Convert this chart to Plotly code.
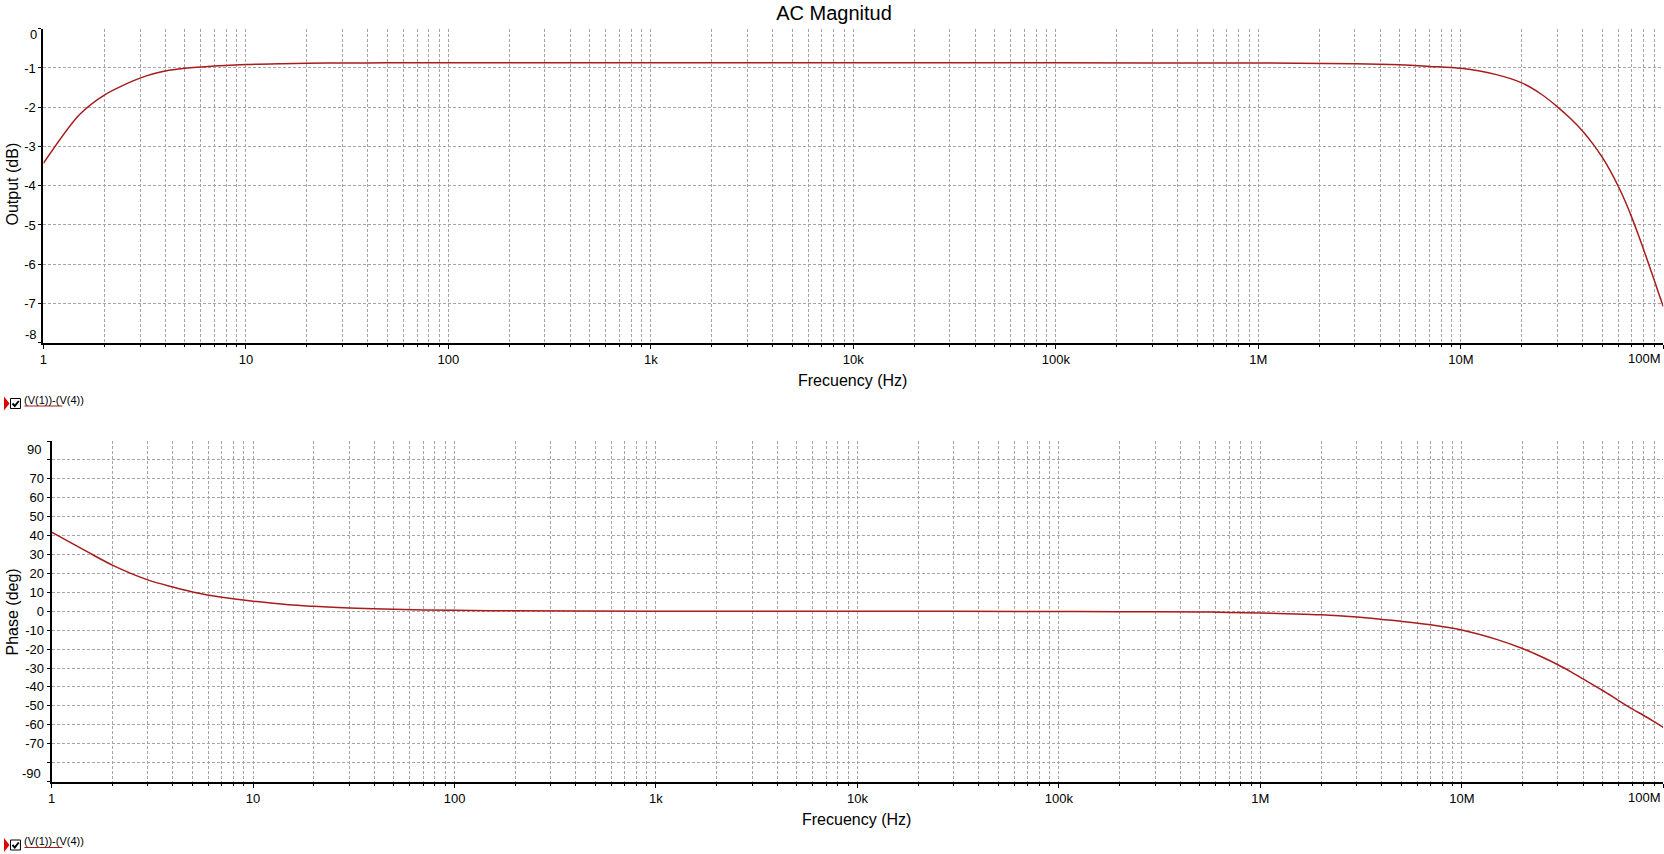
import math
import plotly.graph_objects as go

W, H = 1664, 854

# ---------------- data ----------------
freq_mag = [1, 1.5, 2, 3, 4, 5, 7, 10, 15, 20, 30, 50, 100,
            1e3, 1e4, 1e5, 1e6, 3e6, 5e6, 7e6, 1e7,
            1.5e7, 2e7, 2.5e7, 3e7, 3.5e7, 4e7, 4.5e7, 5e7, 5.5e7, 6e7, 6.5e7,
            7e7, 7.5e7, 8e7, 8.5e7, 9e7, 9.5e7, 1e8]
mag_db = [-3.43, -2.20, -1.69, -1.26, -1.08, -1.01, -0.95, -0.91, -0.89, -0.88, -0.875, -0.87, -0.87,
          -0.87, -0.87, -0.87, -0.875, -0.89, -0.92, -0.96, -1.01,
          -1.17, -1.38, -1.67, -1.99, -2.30, -2.61, -2.94, -3.28, -3.64, -4.02, -4.41,
          -4.82, -5.23, -5.63, -6.02, -6.39, -6.75, -7.08]

freq_ph = [1, 1.5, 2, 3, 4, 5, 7, 10, 15, 20, 30, 50, 100, 150,
           1e3, 1e4, 1e5, 2e5, 5e5, 7e5, 1e6, 1.5e6, 2e6, 3e6, 4e6, 5e6, 7e6, 1e7,
           1.5e7, 2e7, 2.5e7, 3e7, 3.5e7, 4e7, 5e7, 6e7, 7e7, 8e7, 9e7, 1e8]
phase_deg = [41.8, 31.5, 24.4, 16.6, 12.8, 10.2, 7.4, 5.3, 3.4, 2.6, 1.7, 1.0, 0.5, 0.3,
             0.0, 0.0, -0.1, -0.2, -0.4, -0.6, -0.9, -1.4, -1.9, -3.1, -4.3, -5.3, -7.1, -9.9,
             -15.0, -19.7, -24.2, -28.3, -32.2, -35.8, -41.9, -47.2, -51.6, -55.1, -58.4, -61.4]

x_tick_vals = [1, 10, 100, 1e3, 1e4, 1e5, 1e6, 1e7, 1e8]
x_tick_text = ["1", "10", "100", "1k", "10k", "100k", "1M", "10M", "100M"]
x_minor_vals = [k * 10 ** d for d in range(8) for k in range(2, 10)]

mag_tick_vals = [0, -1, -2, -3, -4, -5, -6, -7, -8]
mag_tick_text = ["0", "-1", "-2", "-3", "-4", "-5", "-6", "-7", "-8"]

ph_tick_vals = [90, 80, 70, 60, 50, 40, 30, 20, 10, 0, -10, -20, -30, -40, -50, -60, -70, -80, -90]
ph_tick_text = ["90", "", "70", "60", "50", "40", "30", "20", "10", "0", "-10", "-20", "-30",
                "-40", "-50", "-60", "-70", "", "-90"]

title_text = "AC Magnitud"
x_title = "Frecuency (Hz)"
y1_title = "Output (dB)"
y2_title = "Phase (deg)"
legend_text = "(V(1))-(V(4))"

# ---------------- style ----------------
FONT = "Liberation Sans, Arial, sans-serif"
LINE_COLOR = "#a81c1c"
GRID_COLOR = "#a6a6a6"
GRID_DASH = "3px,2px"


def px(x):
    return x / W


def py(y):
    return 1 - y / H


top_x_dom = [px(39.5), px(1663.3)]
top_y_dom = [py(342.7), py(28.7)]
bot_x_dom = [px(47.7), px(1663.3)]
bot_y_dom = [py(781.5), py(441.0)]


def edge_blank(texts, idx):
    t = list(texts)
    for i in idx:
        t[i] = ""
    return t


def xaxis_cfg(domain, anchor):
    return dict(
        type="log", range=[0, 8], domain=domain, anchor=anchor,
        showline=True, linecolor="black", linewidth=2, mirror=False,
        ticks="outside", ticklen=4, tickwidth=1, tickcolor="black",
        tickmode="array", tickvals=x_tick_vals, ticktext=edge_blank(x_tick_text, [-1]),
        tickfont=dict(family=FONT, size=13, color="black"),
        showgrid=True, gridcolor=GRID_COLOR, griddash=GRID_DASH, gridwidth=1,
        zeroline=False, fixedrange=True,
        minor=dict(tickmode="array", tickvals=x_minor_vals, ticks="outside", ticklen=2,
                   tickcolor="black", tickwidth=1, showgrid=True,
                   gridcolor=GRID_COLOR, griddash=GRID_DASH, gridwidth=1),
    )


def yaxis_cfg(domain, anchor, rng, vals, texts, blank_idx):
    return dict(
        range=rng, domain=domain, anchor=anchor,
        showline=True, linecolor="black", linewidth=2,
        ticks="outside", ticklen=3, tickwidth=1, tickcolor="black",
        tickmode="array", tickvals=vals, ticktext=edge_blank(texts, blank_idx),
        tickfont=dict(family=FONT, size=13, color="black"),
        showgrid=True, gridcolor=GRID_COLOR, griddash=GRID_DASH, gridwidth=1,
        zeroline=False, fixedrange=True,
    )


fig = go.Figure()
fig.add_trace(go.Scatter(x=freq_mag, y=mag_db, mode="lines", xaxis="x", yaxis="y",
                         line=dict(color=LINE_COLOR, width=1.5, shape="spline", smoothing=0.8),
                         showlegend=False, hoverinfo="x+y"))
fig.add_trace(go.Scatter(x=freq_ph, y=phase_deg, mode="lines", xaxis="x2", yaxis="y2",
                         line=dict(color=LINE_COLOR, width=1.5, shape="spline", smoothing=0.8),
                         showlegend=False, hoverinfo="x+y"))

annotations = []
shapes = []

# extreme tick labels (drawn inside the range like the reference)
for xref, yref, ypix in (("x", "paper", 358.0), ("x2", "paper", 797.0)):
    annotations.append(dict(x=math.log10(x_tick_vals[-1]), y=py(ypix), xref=xref, yref=yref,
                            text=x_tick_text[-1], showarrow=False, xanchor="right", yanchor="middle",
                            font=dict(family=FONT, size=13, color="black")))

annotations += [
    dict(x=px(35.5), y=mag_tick_vals[0], xref="paper", yref="y", text=mag_tick_text[0],
         showarrow=False, xanchor="right", yanchor="middle", yshift=-6,
         font=dict(family=FONT, size=13, color="black")),
    dict(x=px(35.5), y=mag_tick_vals[-1], xref="paper", yref="y", text=mag_tick_text[-1],
         showarrow=False, xanchor="right", yanchor="middle", yshift=8,
         font=dict(family=FONT, size=13, color="black")),
    dict(x=px(39.0), y=ph_tick_vals[0], xref="paper", yref="y2", text=ph_tick_text[0],
         showarrow=False, xanchor="right", yanchor="middle", yshift=-8,
         font=dict(family=FONT, size=13, color="black")),
    dict(x=px(39.0), y=ph_tick_vals[-1], xref="paper", yref="y2", text=ph_tick_text[-1],
         showarrow=False, xanchor="right", yanchor="middle", yshift=8,
         font=dict(family=FONT, size=13, color="black")),
]

# axis titles
annotations += [
    dict(x=px(851), y=py(380.5), xref="paper", yref="paper", text=x_title, showarrow=False,
         xanchor="center", yanchor="middle", font=dict(family=FONT, size=16, color="black")),
    dict(x=px(855), y=py(819), xref="paper", yref="paper", text=x_title, showarrow=False,
         xanchor="center", yanchor="middle", font=dict(family=FONT, size=16, color="black")),
    dict(x=px(8.5), y=py(184), xref="paper", yref="paper", text=y1_title, showarrow=False,
         textangle=-90, xanchor="center", yanchor="middle",
         font=dict(family=FONT, size=16, color="black")),
    dict(x=px(8.5), y=py(612), xref="paper", yref="paper", text=y2_title, showarrow=False,
         textangle=-90, xanchor="center", yanchor="middle",
         font=dict(family=FONT, size=16, color="black")),
]

# legend-like trace labels under each plot
for ycen in (403.5, 845.0):
    annotations.append(dict(x=px(18.5), y=py(ycen - 4), xref="paper", yref="paper", text=legend_text,
                            showarrow=False, xanchor="left", yanchor="middle",
                            font=dict(family=FONT, size=11, color="black")))
    shapes.append(dict(type="line", xref="paper", yref="paper",
                       x0=px(20.5), x1=px(58.5), y0=py(ycen + 2.5), y1=py(ycen + 2.5),
                       line=dict(color=LINE_COLOR, width=1)))
    shapes.append(dict(type="rect", xref="paper", yref="paper",
                       x0=px(6.5), x1=px(16.5), y0=py(ycen - 5), y1=py(ycen + 5),
                       line=dict(color="black", width=1), fillcolor="white"))
    shapes.append(dict(type="path", xref="paper", yref="paper",
                       path="M {} {} L {} {} L {} {}".format(px(8.5), py(ycen), px(10.8), py(ycen + 2.5),
                                                             px(14.8), py(ycen - 2.5)),
                       line=dict(color="black", width=2)))
    shapes.append(dict(type="path", xref="paper", yref="paper",
                       path="M {} {} L {} {} L {} {} Z".format(px(0), py(ycen - 7), px(5.5), py(ycen),
                                                               px(0), py(ycen + 7)),
                       line=dict(color="#e00000", width=0), fillcolor="#e00000"))

fig.update_layout(
    width=W, height=H, autosize=False,
    margin=dict(l=0, r=0, t=0, b=0, pad=0),
    paper_bgcolor="white", plot_bgcolor="white",
    font=dict(family=FONT, size=13, color="black"),
    title=dict(text=title_text, x=px(832), y=py(12.5), xanchor="center", yanchor="middle",
               xref="paper", yref="paper", font=dict(family=FONT, size=20, color="black")),
    xaxis=xaxis_cfg(top_x_dom, "y"),
    yaxis=yaxis_cfg(top_y_dom, "x", [-8, 0], mag_tick_vals, mag_tick_text, [0, -1]),
    xaxis2=xaxis_cfg(bot_x_dom, "y2"),
    yaxis2=yaxis_cfg(bot_y_dom, "x2", [-90, 90], ph_tick_vals, ph_tick_text, [0, -1]),
    annotations=annotations,
    shapes=shapes,
    showlegend=False,
)

fig.write_html(
    "out.html",
    config={"displayModeBar": False},
    post_script="document.body.style.margin = '0px'; document.body.style.overflow = 'hidden';",
)
